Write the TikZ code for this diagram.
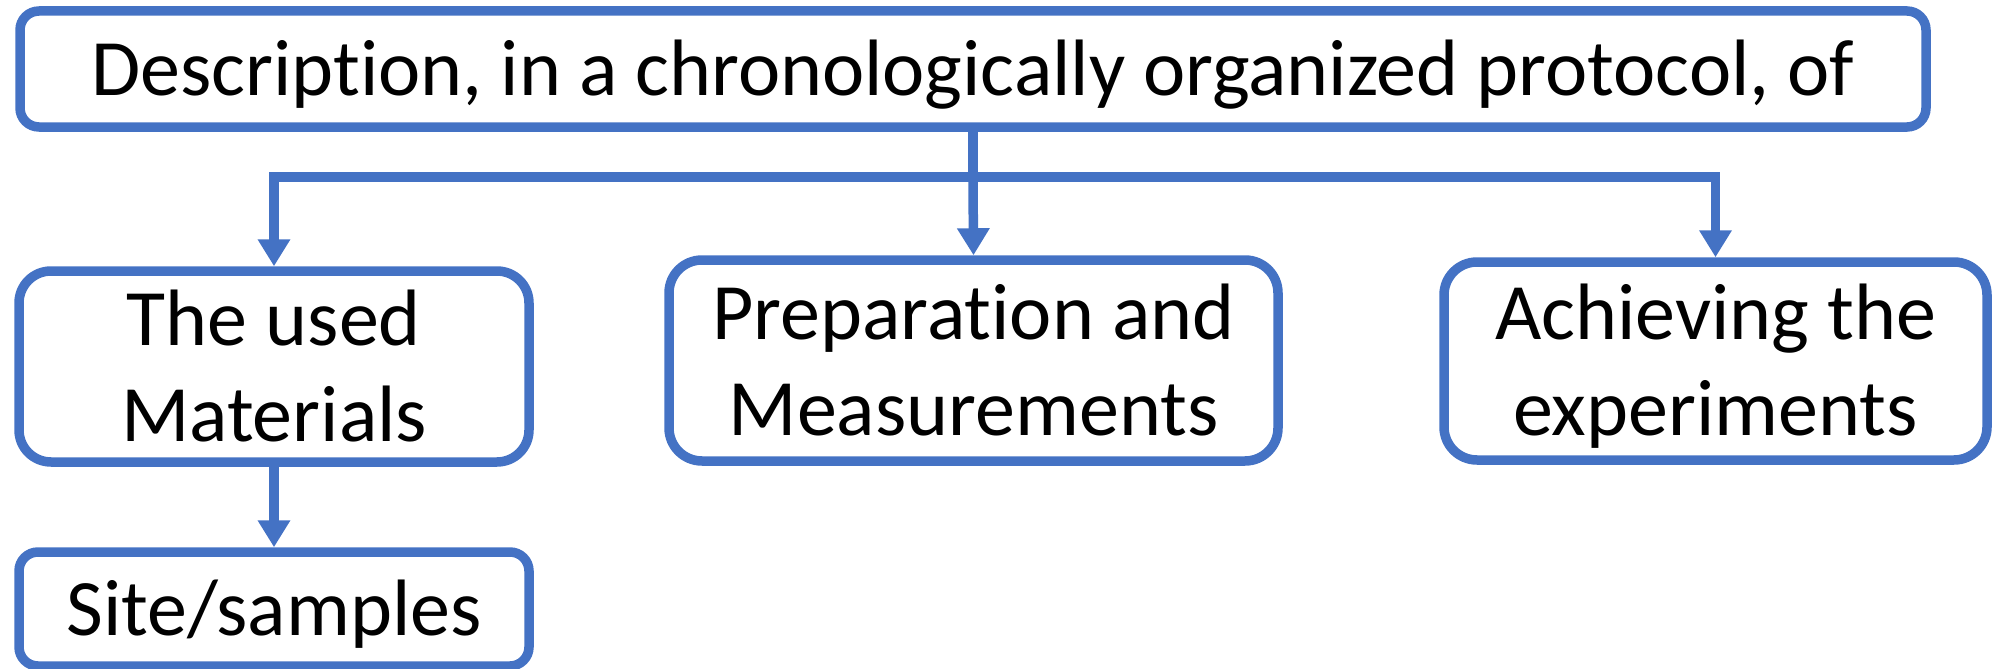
\documentclass[tikz,border=0pt]{standalone}
\usepackage{fontspec}
\setmainfont{Carlito}[Ligatures=NoCommon]
\usetikzlibrary{arrows.meta}
\definecolor{officeblue}{HTML}{4472C4}
% fixed-size strut so every label sits at the same place in its box
\newcommand\boxstrut{\rule[-19pt]{0pt}{91pt}}
\begin{document}
\begin{tikzpicture}[x=1pt,y=-1pt,
  box/.style={draw=officeblue, line width=9.5pt, fill=white, align=center,
    inner sep=0pt, font=\fontsize{80pt}{96pt}\selectfont},
  conn/.style={draw=officeblue, line width=9.5pt,
    -{Triangle[length=27pt,width=31pt]}}]
\useasboundingbox (0,0) rectangle (1995,669);
% boxes
\node[box, minimum width=1906pt, minimum height=116pt, rounded corners=19pt] (top) at (973,69)
  {\boxstrut Description, in a chronologically organized protocol, of};
\node[box, minimum width=510pt, minimum height=191pt, rounded corners=32pt] (mat) at (274,366.5)
  {\boxstrut The used\\Materials\boxstrut};
\node[box, minimum width=609pt, minimum height=201pt, rounded corners=33pt] (prep) at (973.5,360.5)
  {\boxstrut Preparation and\\Measurements\boxstrut};
\node[box, minimum width=543pt, minimum height=198pt, rounded corners=33pt] (ach) at (1715.5,361)
  {\boxstrut Achieving the\\experiments\boxstrut};
\node[box, minimum width=510pt, minimum height=114pt, rounded corners=19pt] (site) at (274,609)
  {\boxstrut Site/samples};
% connectors
\coordinate (bus) at (973,177);
\draw[draw=officeblue, line width=9.5pt] (top.south) -- (bus);
\draw[conn] (bus) -| (mat.north);
\draw[conn] (bus) -- (prep.north);
\draw[conn] (bus) -| (ach.north);
\draw[conn] (mat.south) -- (site.north);
\end{tikzpicture}
\end{document}
